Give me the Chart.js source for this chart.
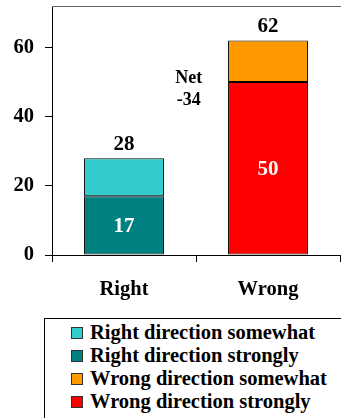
<!DOCTYPE html>
<html>
<head>
<meta charset="utf-8">
<script src="https://cdn.jsdelivr.net/npm/chart.js@4/dist/chart.umd.min.js"></script>
<style>
  html, body { margin: 0; padding: 0; background: #fff; }
  #wrap { position: relative; width: 341px; height: 418px; overflow: hidden; }
  #chart { position: absolute; left: 0; top: 0; }
  #legend {
    position: absolute; left: 44px; top: 318px; width: 310px; height: 110px;
    border: 1px solid #000; box-sizing: border-box;
    font-family: 'Liberation Serif', 'Times New Roman', serif; font-weight: bold; font-size: 20.5px;
  }
  .item { position: absolute; left: 26px; height: 23px; line-height: 23px; white-space: nowrap; }
  .sw { position: absolute; left: 0; top: 6px; width: 12px; height: 12px; border: 1px solid #333; box-sizing: border-box; }
  .tx { position: absolute; left: 19px; top: 0; }
</style>
</head>
<body>
<div id="wrap">
  <canvas id="chart" width="341" height="310"></canvas>
  <div id="legend"></div>
</div>
<script>
// Categories and series values
const categories = ['Right', 'Wrong'];
const rightStrongly = [17, null];
const rightSomewhat = [11, null];
const wrongStrongly = [null, 50];
const wrongSomewhat = [null, 12];
const yTicks = [0, 20, 40, 60];
const netLabel = ['Net', '-34'];

const seriesNames = ['Right direction somewhat', 'Right direction strongly', 'Wrong direction somewhat', 'Wrong direction strongly'];
const seriesColors = ['#33CCCC', '#008080', '#FF9900', '#FF0000'];

const serif = "'Liberation Serif', 'Times New Roman', serif";

const datasets = [
  { label: seriesNames[1], data: rightStrongly, backgroundColor: seriesColors[1] },
  { label: seriesNames[0], data: rightSomewhat, backgroundColor: seriesColors[0] },
  { label: seriesNames[3], data: wrongStrongly, backgroundColor: seriesColors[3] },
  { label: seriesNames[2], data: wrongSomewhat, backgroundColor: seriesColors[2] }
].map(d => Object.assign(d, { borderColor: '#000', borderWidth: 1, borderSkipped: false,
  categoryPercentage: 1, barPercentage: 0.555 }));

// Frame line along the top of the plot area
const framePlugin = {
  id: 'topFrame',
  beforeDatasetsDraw(chart) {
    const { ctx, chartArea: a } = chart;
    ctx.save();
    ctx.strokeStyle = '#666';
    ctx.lineWidth = 1;
    ctx.beginPath();
    ctx.moveTo(a.left, a.top + 0.5);
    ctx.lineTo(a.right + 1, a.top + 0.5);
    ctx.stroke();
    ctx.restore();
  }
};

// Value labels: totals above bars, strong-segment values inside, and the net annotation
const labelPlugin = {
  id: 'valueLabels',
  afterDatasetsDraw(chart) {
    const ctx = chart.ctx;
    const x = chart.scales.x, y = chart.scales.y;
    ctx.save();
    ctx.font = 'bold 21px ' + serif;
    ctx.textAlign = 'center';
    ctx.textBaseline = 'middle';
    const strong = [rightStrongly[0], wrongStrongly[1]];
    const totals = [rightStrongly[0] + rightSomewhat[0], wrongStrongly[1] + wrongSomewhat[1]];
    categories.forEach((c, i) => {
      const cx = x.getPixelForValue(i);
      ctx.fillStyle = '#000';
      ctx.fillText(String(totals[i]), cx, y.getPixelForValue(totals[i]) - 14);
      ctx.fillStyle = '#fff';
      ctx.fillText(String(strong[i]), cx, y.getPixelForValue(strong[i] / 2) + 1);
    });
    ctx.fillStyle = '#000';
    ctx.font = 'bold 18px ' + serif;
    const nx = x.getPixelForValue(0.45);
    ctx.fillText(netLabel[0], nx, y.getPixelForValue(51.2));
    ctx.fillText(netLabel[1], nx, y.getPixelForValue(44.8));
    ctx.restore();
  }
};

new Chart(document.getElementById('chart'), {
  type: 'bar',
  data: { labels: categories, datasets },
  options: {
    responsive: false,
    animation: false,
    layout: { padding: { top: 6, right: 1, left: 0, bottom: 0 } },
    plugins: { legend: { display: false }, tooltip: { enabled: false } },
    scales: {
      x: {
        stacked: true,
        border: { display: true, color: '#000', width: 1 },
        grid: { display: true, drawOnChartArea: false, offset: true, color: '#000', tickLength: 7 },
        ticks: { color: '#000', font: { family: serif, weight: 'bold', size: 20.5 }, padding: 15 },
        afterFit(s) { s.height = 55; s.paddingLeft = 0; s.paddingRight = 0; }
      },
      y: {
        stacked: true,
        min: 0, max: 72,
        border: { display: true, color: '#000', width: 1 },
        grid: { display: true, drawOnChartArea: false, color: '#000', tickLength: 7 },
        ticks: { color: '#000', font: { family: serif, weight: 'bold', size: 20.5 }, padding: 11 },
        afterBuildTicks(s) { s.ticks = yTicks.map(v => ({ value: v })); },
        afterFit(s) { s.width = 52; s.paddingTop = 0; s.paddingBottom = 0; }
      }
    }
  },
  plugins: [framePlugin, labelPlugin]
});

// Legend list in a bordered box
const legend = document.getElementById('legend');
seriesNames.forEach((name, i) => {
  const row = document.createElement('div');
  row.className = 'item';
  row.style.top = (2 + i * 23) + 'px';
  row.innerHTML = '<span class="sw" style="background:' + seriesColors[i] + '"></span><span class="tx">' + name + '</span>';
  legend.appendChild(row);
});
</script>
</body>
</html>
